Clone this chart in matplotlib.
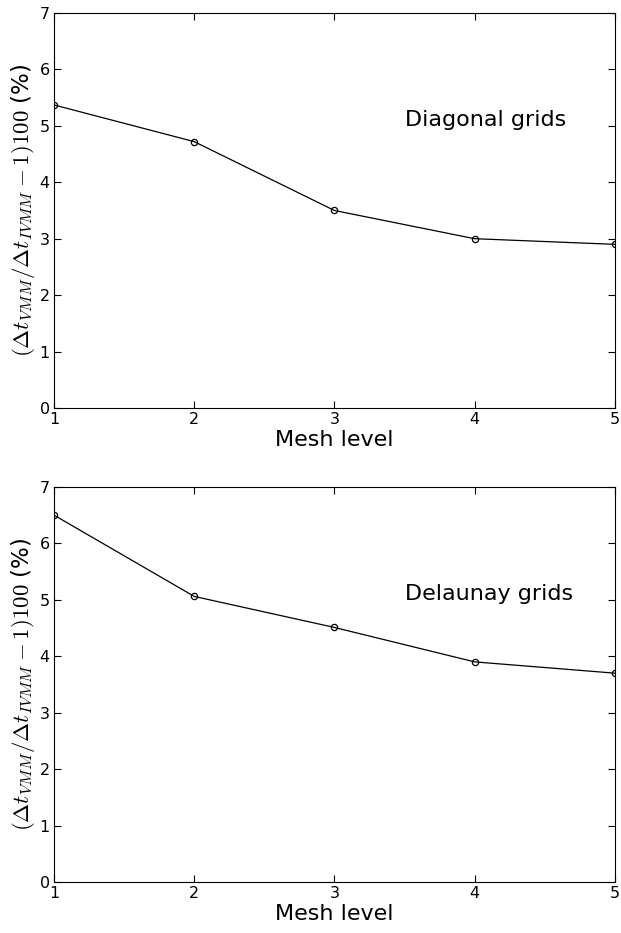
import matplotlib
matplotlib.use('Agg')
import matplotlib.pyplot as plt

plt.rcParams['mathtext.fontset'] = 'cm'

# Mesh levels and results
mesh_level = [1, 2, 3, 4, 5]
diagonal = [5.37, 4.72, 3.50, 3.00, 2.90]
delaunay = [6.50, 5.06, 4.51, 3.90, 3.70]

xticks = [1, 2, 3, 4, 5]
yticks = [0, 1, 2, 3, 4, 5, 6, 7]

ylabel = r'$(\Delta t_{VMM}/\Delta t_{IVMM}-1)100$ (%)'

fig = plt.figure(figsize=(6.21, 9.33), dpi=100)
ax1 = fig.add_axes([0.087, 0.5627, 0.903, 0.4234])
ax2 = fig.add_axes([0.087, 0.0547, 0.903, 0.4234])

for ax, datos, nombre in [(ax1, diagonal, 'Diagonal grids'), (ax2, delaunay, 'Delaunay grids')]:
    ax.plot(mesh_level, datos, color='black', linewidth=0.9, marker='o',
            markersize=4.5, markerfacecolor='none', markeredgecolor='black',
            markeredgewidth=0.9)
    ax.set_xlim(1, 5)
    ax.set_ylim(0, 7)
    ax.set_xticks(xticks)
    ax.set_yticks(yticks)
    ax.tick_params(direction='in', top=True, right=True, length=5, labelsize=11.5, pad=3)
    ax.set_xlabel('Mesh level', fontsize=16, labelpad=2)
    ax.set_ylabel(ylabel, fontsize=16.5, labelpad=2)
    ax.text(3.5, 5.0, nombre, fontsize=16)

fig.savefig('out.png', dpi=100, facecolor='white')
